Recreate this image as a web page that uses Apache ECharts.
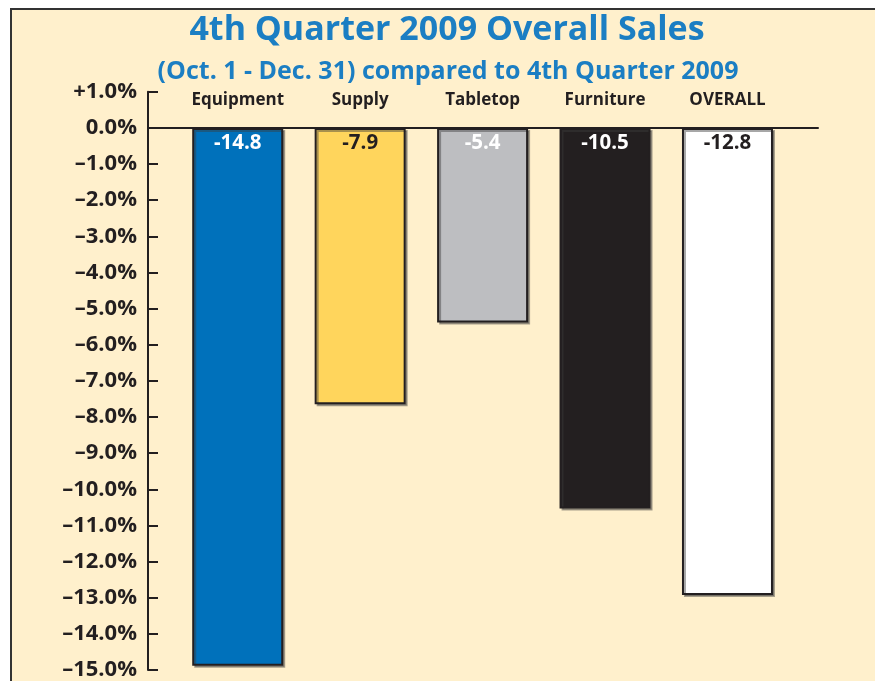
<!DOCTYPE html>
<html><head><meta charset="utf-8">
<script src="https://cdn.jsdelivr.net/npm/echarts@6/dist/echarts.min.js"></script>
<style>html,body{margin:0;padding:0;background:#fff}#c{width:875px;height:681px}</style>
</head><body><div id="c"></div>
<script>
const categories = ["Equipment", "Supply", "Tabletop", "Furniture", "OVERALL"];
const barValues = [-14.8, -7.6, -5.35, -10.47, -12.85];
const valueLabels = ["-14.8", "-7.9", "-5.4", "-10.5", "-12.8"];
const barColors = ["#0071BB", "#FFD55C", "#BDBEC1", "#231F20", "#FFFFFF"];
const labelColors = ["#FFFFFF", "#231F20", "#FFFFFF", "#FFFFFF", "#231F20"];
const yTicks = [1, 0, -1, -2, -3, -4, -5, -6, -7, -8, -9, -10, -11, -12, -13, -14, -15];
const yTickLabels = ["+1.0%", "0.0%", "\u20131.0%", "\u20132.0%", "\u20133.0%", "\u20134.0%", "\u20135.0%", "\u20136.0%", "\u20137.0%", "\u20138.0%", "\u20139.0%", "\u201310.0%", "\u201311.0%", "\u201312.0%", "\u201313.0%", "\u201314.0%", "\u201315.0%"];

const BG = "#FFF0CC";
const DARK = "#231F20";
const BLUE = "#1B7EC3";
const FONT = "Open Sans";

const chart = echarts.init(document.getElementById("c"));
chart.setOption({
  backgroundColor: "#FFFFFF",
  animation: false,
  graphic: [{
    type: "rect", z: -10, silent: true,
    shape: { x: 11, y: 9, width: 900, height: 700 },
    style: { fill: BG, stroke: "#333333", lineWidth: 2 }
  }],
  title: [
    { text: "4th Quarter 2009 Overall Sales", left: 442, top: 8, textAlign: "center",
      textStyle: { fontFamily: FONT, fontWeight: "bold", fontSize: 34, color: BLUE } },
    { text: "(Oct. 1 - Dec. 31) compared to 4th Quarter 2009", left: 443, top: 54, textAlign: "center",
      textStyle: { fontFamily: FONT, fontWeight: "bold", fontSize: 25, color: BLUE } }
  ],
  grid: [
    { left: 148, right: 57, top: 91.7, bottom: 8 },
    { left: 176.5, right: 86.3, top: 91.7, bottom: 8 }
  ],
  xAxis: [
    { type: "value", gridIndex: 0, min: 0, max: 1, splitLine: { show: false },
      axisLabel: { show: false }, axisTick: { show: false },
      axisLine: { show: true, onZero: true, lineStyle: { color: DARK, width: 2 } } },
    { type: "category", gridIndex: 1, position: "top", data: categories,
      axisLine: { show: false }, axisTick: { show: false },
      axisLabel: { interval: 0, inside: true, margin: 0, fontFamily: FONT, fontWeight: "bold", fontSize: 17, color: DARK } }
  ],
  yAxis: [
    { type: "value", gridIndex: 0, min: -15, max: 1, interval: 1,
      splitLine: { show: false },
      axisLine: { show: true, lineStyle: { color: DARK, width: 2 } },
      axisTick: { show: true, inside: true, length: 10, lineStyle: { color: DARK, width: 2 } },
      axisLabel: { margin: 11, fontFamily: FONT, fontWeight: "bold", fontSize: 22, color: DARK,
        formatter: v => { const i = yTicks.indexOf(Math.round(v)); return i >= 0 ? yTickLabels[i] : ""; } } },
    { type: "value", gridIndex: 1, min: -15, max: 1, show: false }
  ],
  series: [{
    type: "bar", xAxisIndex: 1, yAxisIndex: 1, barWidth: 91,
    data: barValues.map((v, i) => ({
      value: v,
      itemStyle: { color: barColors[i], borderColor: DARK, borderWidth: 2,
        shadowColor: "rgba(60,60,60,0.45)", shadowOffsetX: 2, shadowOffsetY: 2, shadowBlur: 0 },
      label: { show: true, position: "insideTop", distance: 5, formatter: valueLabels[i],
        fontFamily: FONT, fontWeight: "bold", fontSize: 20.5, color: labelColors[i] }
    }))
  }]
});
</script></body></html>
